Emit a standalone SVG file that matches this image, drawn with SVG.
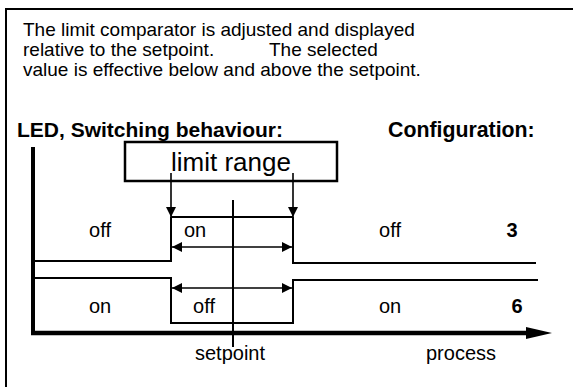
<svg xmlns="http://www.w3.org/2000/svg" width="573" height="387" viewBox="0 0 573 387">
<style>
text{font-family:"Liberation Sans",Arial,sans-serif;fill:#000}
.t{font-size:19px}
.b{font-size:21px;font-weight:bold}
.l{font-size:20px}
.m{text-anchor:middle}
.ln{stroke:#000;stroke-width:2;fill:none}
.thin{stroke:#000;stroke-width:1.6;fill:none}
</style>
<defs>
<marker id="ah" viewBox="0 0 10 10" refX="10" refY="5" markerWidth="10" markerHeight="10" markerUnits="userSpaceOnUse" orient="auto-start-reverse">
<path d="M0,0 L10,5 L0,10 z" fill="#000"/>
</marker>
</defs>
<rect width="573" height="387" fill="#fff"/>
<path d="M6,387 V9 H573" fill="none" stroke="#000" stroke-width="2"/>
<g id="intro">
<text class="t" x="23" y="36">The limit comparator is adjusted and displayed</text>
<text class="t" x="23" y="56">relative to the setpoint.<tspan x="269">The selected</tspan></text>
<text class="t" x="23" y="76">value is effective below and above the setpoint.</text>
</g>
<g id="headers">
<text class="b" x="17" y="137">LED, Switching behaviour:</text>
<text class="b" x="388" y="137" style="font-size:21.3px">Configuration:</text>
</g>
<g id="axes">
<line x1="33" y1="147" x2="33" y2="335" stroke="#000" stroke-width="4"/>
<line x1="31" y1="333" x2="528" y2="333" stroke="#000" stroke-width="4.5"/>
<polygon points="526,327 552,333 526,339" fill="#000"/>
</g>
<g id="limit-range">
<rect x="125" y="142" width="212" height="39" fill="none" stroke="#000" stroke-width="2.5"/>
<text x="231" y="171" font-size="26" text-anchor="middle">limit range</text>
</g>
<g id="connectors">
<line class="thin" x1="171" y1="173" x2="171" y2="217" marker-end="url(#ah)"/>
<line class="thin" x1="293" y1="173" x2="293" y2="217" marker-end="url(#ah)"/>
<line class="ln" x1="171" y1="217" x2="293" y2="217"/>
<line class="thin" x1="172" y1="247" x2="292" y2="247" marker-start="url(#ah)" marker-end="url(#ah)"/>
<line class="thin" x1="172" y1="288" x2="292" y2="288" marker-start="url(#ah)" marker-end="url(#ah)"/>
<line class="ln" x1="233" y1="200" x2="233" y2="347"/>
</g>
<g id="config3">
<polyline class="ln" points="35,261 171,261 171,217"/>
<polyline class="ln" points="293,217 293,263 536,263"/>
<text class="l m" x="100" y="237">off</text>
<text class="l" x="184" y="237">on</text>
<text class="l m" x="390" y="237">off</text>
<text class="b m" x="512" y="237" style="font-size:20px">3</text>
</g>
<g id="config6">
<polyline class="ln" points="35,278 171,278 171,323 293,323 293,280 538,280"/>
<text class="l m" x="100" y="313">on</text>
<text class="l m" x="204" y="313">off</text>
<text class="l m" x="390" y="313">on</text>
<text class="b m" x="517" y="313" style="font-size:20px">6</text>
</g>
<g id="labels">
<text class="l m" x="230" y="360">setpoint</text>
<text class="l m" x="461" y="360">process</text>
</g>
</svg>
